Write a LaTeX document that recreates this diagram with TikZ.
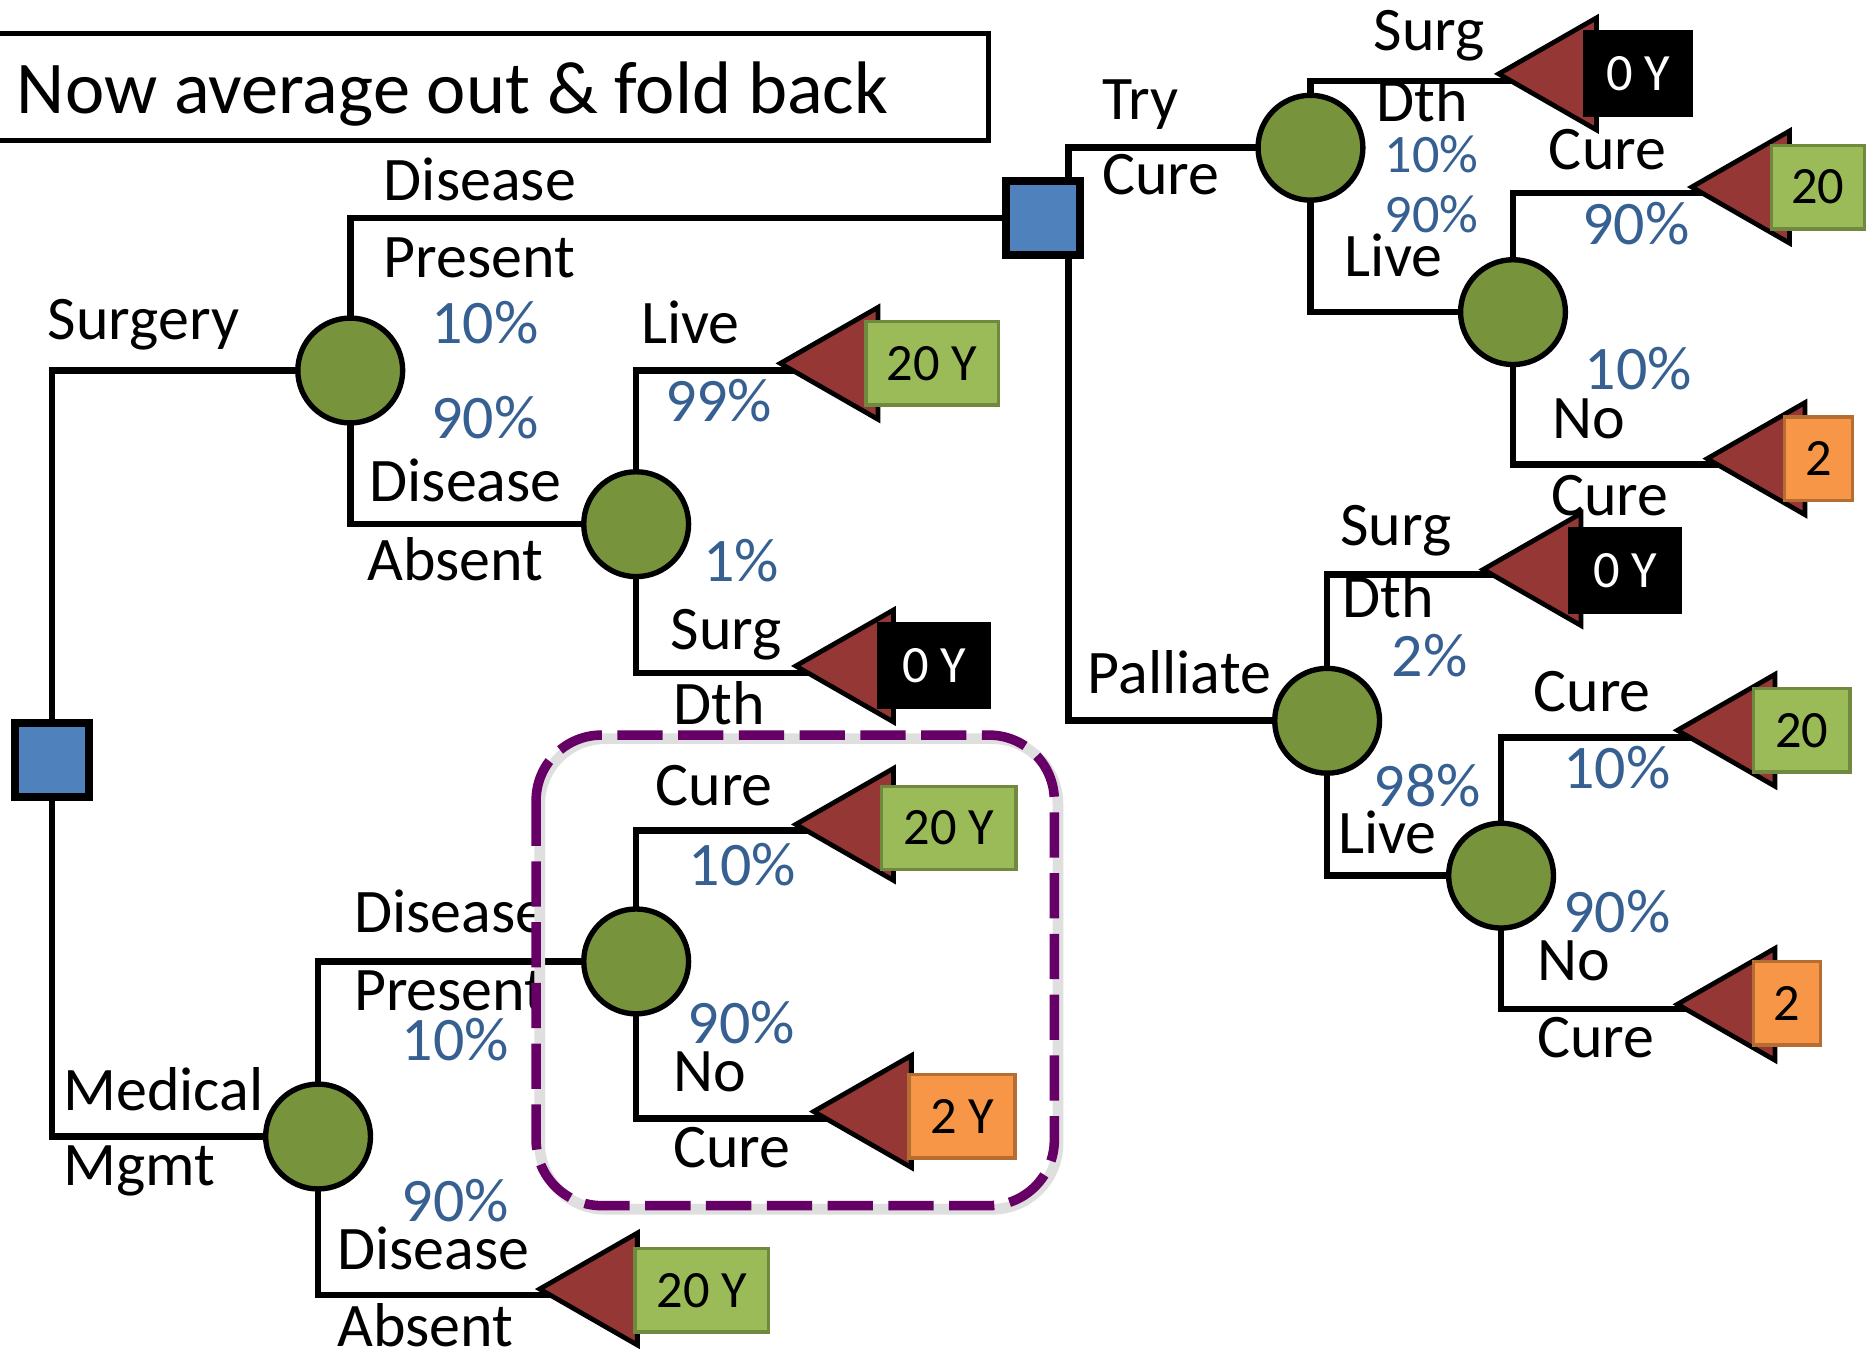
\documentclass[tikz,border=0pt]{standalone}
\usepackage{fontspec}
\setmainfont{Carlito}
\definecolor{treegreen}{HTML}{77933C}
\definecolor{decblue}{HTML}{4F81BD}
\definecolor{trired}{HTML}{953735}
\definecolor{boxgreen}{HTML}{9BBB59}
\definecolor{boxgreenb}{HTML}{71893F}
\definecolor{boxorange}{HTML}{F79646}
\definecolor{boxoranged}{HTML}{B66D31}
\definecolor{pctblue}{HTML}{376092}
\definecolor{hlpurple}{HTML}{660066}
\pgfdeclarelayer{bg}
\pgfsetlayers{bg,main}
\newcommand\lblfont{\fontsize{52}{60}\selectfont}
\newcommand\smallpctfont{\fontsize{45.5}{54}\selectfont}
\newcommand\boxfont{\fontsize{44}{52}\selectfont}
\newcommand\titlefont{\fontsize{62.5}{72}\selectfont}
\newcommand\lab[5]{\node[#4] (#1) at (#2,#3) {#5};}
\newcommand\terminal[8]{%
  \draw[tri] (#2,#3) -- ++(82,-47) -- ++(0,94) -- cycle;
  \node[#7, minimum width=#6pt] (#1) at (#4,#5) {#8};}
\begin{document}
\begin{tikzpicture}[x=1pt,y=-1pt,
  branch/.style={line width=5.5pt, line join=miter, line cap=rect},
  chance/.style={circle, draw=black, line width=4.5pt, fill=treegreen, minimum size=88pt, inner sep=0pt},
  decision/.style={rectangle, draw=black, line width=6.5pt, fill=decblue, minimum size=62pt, inner sep=0pt},
  tri/.style={draw=black, line width=4pt, fill=trired, line join=miter},
  tbox/.style={rectangle, minimum height=70pt, inner sep=0pt, font=\boxfont},
  gbox/.style={tbox, fill=boxgreen, draw=boxgreenb, line width=3pt},
  obox/.style={tbox, fill=boxorange, draw=boxoranged, line width=3pt},
  kbox/.style={tbox, fill=black, draw=black, line width=3pt, text=white},
  lbl/.style={anchor=base west, inner sep=0pt, font=\lblfont},
  pct/.style={lbl, text=pctblue},
  pcts/.style={anchor=base west, inner sep=0pt, font=\smallpctfont, text=pctblue},
  dashbox/.style={draw=hlpurple, line width=8pt, dash pattern=on 38pt off 13pt, rounded corners=55pt}
]
\useasboundingbox (0,0) rectangle (1568,1133);
\begin{pgfonlayer}{bg}
\fill[white] (0,0) rectangle (1568,1133);
\end{pgfonlayer}

% title
\draw[line width=4pt] (-10,28) rectangle (830,118);
\node[anchor=base west, inner sep=0pt, font=\titlefont] (title) at (14,95) {Now average out \& fold back};

% decision and chance nodes
\node[decision] (d1) at (43.5,638) {};
\node[decision] (d2) at (875.5,183) {};
\coordinate (d2s) at (897,183);
\node[chance] (c1) at (294,311) {};
\node[chance] (c2) at (534,440) {};
\node[chance] (c3) at (1100,124) {};
\node[chance] (c4) at (1270,262) {};
\node[chance] (c5) at (1114,605) {};
\node[chance] (c6) at (1260,735) {};
\node[chance] (c7) at (267,954) {};
\node[chance] (c8) at (534,807) {};

% line ends at terminals
\coordinate (e1) at (669,311);
\coordinate (e2) at (682,565);
\coordinate (e3) at (1272,68);
\coordinate (e4) at (1434,162);
\coordinate (e5) at (1447,390);
\coordinate (e6) at (1259,482);
\coordinate (e7) at (1422,619);
\coordinate (e8) at (1422,847);
\coordinate (e9) at (467,1087);
\coordinate (e10) at (682,697);
\coordinate (e11) at (697,939);

% terminals
\terminal{t1}{655}{305}{782.5}{305}{111}{gbox}{20 Y}
\terminal{t2}{668}{559}{784}{559}{92}{kbox}{0 Y}
\terminal{t3}{1258}{62}{1375}{62}{90}{kbox}{0 Y}
\terminal{t4}{1420}{157}{1526}{157}{78}{gbox}{20}
\terminal{t5}{1433}{385}{1526.5}{385}{57}{obox}{2}
\terminal{t6}{1245}{478}{1364}{479}{92}{kbox}{0 Y}
\terminal{t7}{1408}{613}{1512.5}{613}{81}{gbox}{20}
\terminal{t8}{1408}{843}{1500}{842}{56}{obox}{2}
\terminal{t9}{453}{1082}{589}{1083}{112}{gbox}{20 Y}
\terminal{t10}{668}{692}{796.5}{695}{113}{gbox}{20 Y}
\terminal{t11}{683}{933}{807.5}{937}{89}{obox}{2 Y}

% branches
\begin{pgfonlayer}{bg}
\draw[branch] (d1) |- (c1);
\draw[branch] (d1) |- (c7);
\draw[branch] (c1) |- (d2);
\draw[branch] (c1) |- (c2);
\draw[branch] (c2) |- (e1);
\draw[branch] (c2) |- (e2);
\draw[branch] (d2s) |- (c3);
\draw[branch] (d2s) |- (c5);
\draw[branch] (c3) |- (e3);
\draw[branch] (c3) |- (c4);
\draw[branch] (c4) |- (e4);
\draw[branch] (c4) |- (e5);
\draw[branch] (c5) |- (e6);
\draw[branch] (c5) |- (c6);
\draw[branch] (c6) |- (e7);
\draw[branch] (c6) |- (e8);
\draw[branch] (c7) |- (c8);
\draw[branch] (c7) |- (e9);
\draw[branch] (c8) |- (e10);
\draw[branch] (c8) |- (e11);
\end{pgfonlayer}

% labels
\lab{l1}{322}{168}{lbl}{Disease}
\lab{l2}{322}{233}{lbl}{Present}
\lab{l3}{40}{285}{lbl}{Surgery}
\lab{l4}{362}{288}{pct}{10\%}
\lab{l5}{538}{288}{lbl}{Live}
\lab{l6}{558}{354}{pct}{99\%}
\lab{l7}{362}{368}{pct}{90\%}
\lab{l8}{310}{421}{lbl}{Disease}
\lab{l9}{308}{487}{lbl}{Absent}
\lab{l10}{590}{488}{pct}{1\%}
\lab{l11}{563}{545}{lbl}{Surg}
\lab{l12}{565}{608}{lbl}{Dth}
\lab{l13}{925}{100}{lbl}{Try}
\lab{l14}{925}{163}{lbl}{Cure}
\lab{l15}{1153}{42}{lbl}{Surg}
\lab{l16}{1155}{102}{lbl}{Dth}
\lab{l17}{1162}{145}{pcts}{10\%}
\lab{l18}{1162}{195}{pcts}{90\%}
\lab{l19}{1128}{232}{lbl}{Live}
\lab{l20}{1300}{142}{lbl}{Cure}
\lab{l21}{1328}{205}{pct}{90\%}
\lab{l22}{1330}{327}{pct}{10\%}
\lab{l23}{1303}{368}{lbl}{No}
\lab{l24}{1302}{433}{lbl}{Cure}
\lab{l25}{1125}{458}{lbl}{Surg}
\lab{l26}{1127}{518}{lbl}{Dth}
\lab{l27}{1168}{568}{pct}{2\%}
\lab{l28}{913}{582}{lbl}{Palliate}
\lab{l29}{1287}{597}{lbl}{Cure}
\lab{l30}{1312}{662}{pct}{10\%}
\lab{l31}{1153}{677}{pct}{98\%}
\lab{l32}{1123}{716}{lbl}{Live}
\lab{l33}{1312}{783}{pct}{90\%}
\lab{l34}{1290}{823}{lbl}{No}
\lab{l35}{1290}{888}{lbl}{Cure}
\lab{l36}{550}{676}{lbl}{Cure}
\lab{l37}{578}{743}{pct}{10\%}
\lab{l38}{297}{783}{lbl}{Disease}
\lab{l39}{297}{848}{lbl}{Present}
\lab{l40}{577}{876}{pct}{90\%}
\lab{l41}{337}{890}{pct}{10\%}
\lab{l42}{53}{932}{lbl}{Medical}
\lab{l43}{565}{916}{lbl}{No}
\lab{l44}{53}{995}{lbl}{Mgmt}
\lab{l45}{565}{980}{lbl}{Cure}
\lab{l46}{337}{1025}{pct}{90\%}
\lab{l47}{283}{1066}{lbl}{Disease}
\lab{l48}{283}{1130}{lbl}{Absent}

% highlight box
\draw[gray!25, line width=9pt, rounded corners=55pt] (453,620) rectangle (888,1015);
\draw[dashbox] (450,617) rectangle (885,1012);
\end{tikzpicture}
\end{document}
